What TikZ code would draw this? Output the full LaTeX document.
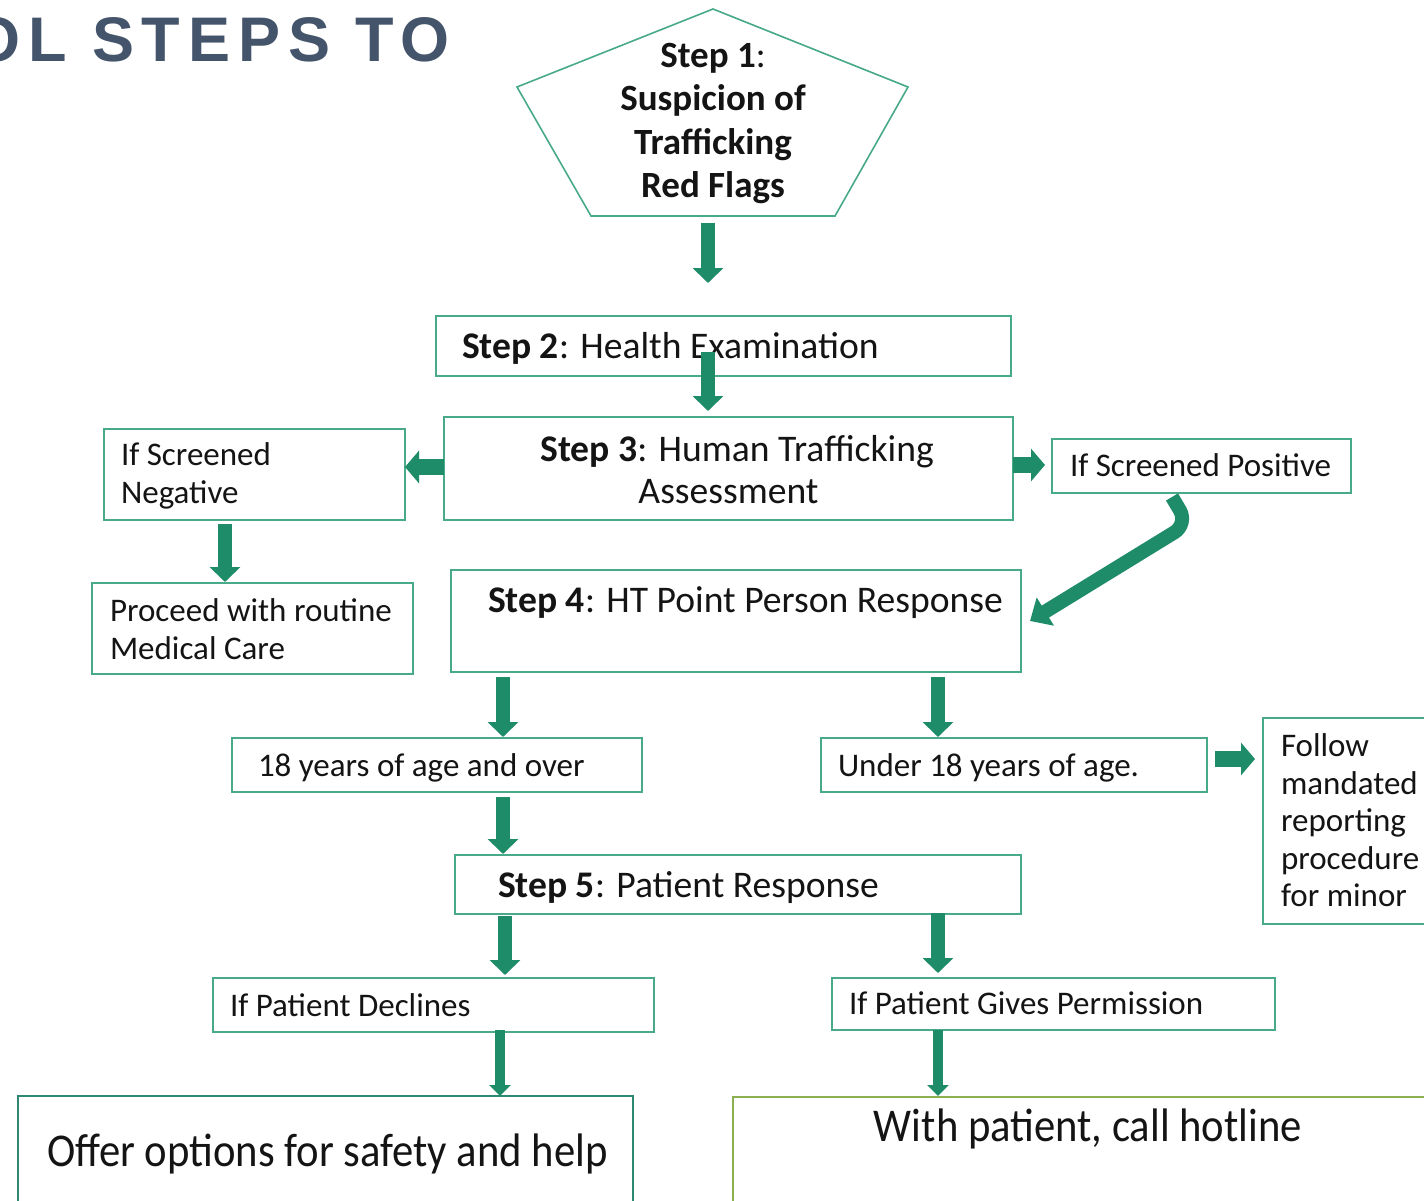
\documentclass[tikz,border=0pt]{standalone}
\usepackage{fontspec}
\setmainfont{Carlito}
\newfontfamily\titlefont[LetterSpace=12.5]{Liberation Sans}
\usetikzlibrary{arrows.meta,calc}
\definecolor{bord}{RGB}{72,170,136}
\definecolor{arr}{RGB}{31,140,105}
\definecolor{olivebd}{RGB}{140,176,80}
\definecolor{tealbd}{RGB}{46,135,112}
\definecolor{ttl}{RGB}{68,84,106}
\definecolor{ink}{RGB}{20,20,20}
\newcommand\mkbox[6][]{\node[box,#1,minimum width={#5pt-#3pt},minimum height={#6pt-#4pt}] (#2) at ({(#3+#5)/2},{(#4+#6)/2}) {};}
\newcommand\ml[2]{\begin{tabular}[t]{@{}#1@{}}#2\end{tabular}}
\begin{document}
\begin{tikzpicture}[x=1pt,y=-1pt,
  box/.style={draw=bord,line width=2pt,inner sep=0pt,outer sep=0pt},
  txt/.style={inner sep=0pt,outer sep=0pt,text=ink,font=\fontsize{33}{38.2}\selectfont},
  steptxt/.style={txt,font=\fontsize{37.6}{42}\selectfont},
  bigtxt/.style={txt,font=\fontsize{47}{52}\selectfont},
  blk/.style={draw=arr,line width=14pt,-{Triangle[length=15pt,width=30pt]}},
  blkh/.style={draw=arr,line width=16pt,-{Triangle[length=14pt,width=32pt]}},
  blks/.style={draw=arr,line width=10pt,-{Triangle[length=11pt,width=21pt]}},
  blkc/.style={draw=arr,line width=14pt,-{Triangle[length=18pt,width=32pt]}}
]
\clip (0,0) rectangle (1424,1201);
\fill[white] (0,0) rectangle (1424,1201);

% title
\node[anchor=base east,inner sep=0pt,text=ttl] (title) at (450,62)
  {\titlefont\bfseries\fontsize{63}{70}\selectfont OL STEPS TO};

% step 1 pentagon
\draw[draw=bord,line width=1.6pt] (713,9) -- (908,87) -- (835,216) -- (591,216) -- (517,87) -- cycle;
\coordinate (pb) at (708,216);
\node[txt,anchor=base,font=\bfseries\fontsize{37}{43.4}\selectfont] (t1) at (713,67.5)
  {\ml{c}{Step 1{\mdseries:}\\Suspicion of\\Trafficking\\Red Flags}};

% boxes
\mkbox{s2}{436}{316}{1011}{376}
\mkbox{s3}{444}{417}{1013}{520}
\mkbox{neg}{104}{429}{405}{520}
\mkbox{proc}{92}{583}{413}{674}
\mkbox{pos}{1052}{439}{1351}{493}
\mkbox{s4}{451}{570}{1021}{672}
\mkbox{adult}{232}{738}{642}{792}
\mkbox{minor}{821}{738}{1207}{792}
\mkbox{follow}{1263}{718}{1440}{924}
\mkbox{s5}{455}{855}{1021}{914}
\mkbox{dec}{213}{978}{654}{1032}
\mkbox{perm}{832}{978}{1275}{1030}
\mkbox[draw=tealbd]{offer}{18}{1096}{633}{1240}
\mkbox[draw=olivebd]{hot}{733}{1097}{1440}{1240}

% texts
\node[steptxt,anchor=base west] (t2) at (462,358) {\textbf{Step 2}: Health Examination};
\node[steptxt,anchor=base] (t3a) at (737,461) {\textbf{Step 3}: Human Trafficking};
\node[steptxt,anchor=base] (t3b) at (728.5,503) {Assessment};
\node[txt,anchor=base west] (tneg) at (121,465.5) {\ml{l}{If Screened\\Negative}};
\node[txt,anchor=base west] (tproc) at (110,621.5) {\ml{l}{Proceed with routine\\Medical Care}};
\node[txt,anchor=base west] (tpos) at (1070,476) {If Screened Positive};
\node[steptxt,anchor=base west] (t4) at (488,612) {\textbf{Step 4}: HT Point Person Response};
\node[txt,anchor=base west] (tadult) at (258,776) {18 years of age and over};
\node[txt,anchor=base west] (tminor) at (838,776) {Under 18 years of age.};
\node[txt,anchor=base west,font=\fontsize{33}{37.6}\selectfont] (tfollow) at (1281,756.5) {\ml{l}{Follow\\mandated\\reporting\\procedure\\for minor}};
\node[steptxt,anchor=base west] (t5) at (498,897) {\textbf{Step 5}: Patient Response};
\node[txt,anchor=base west] (tdec) at (230,1016) {If Patient Declines};
\node[txt,anchor=base west] (tperm) at (849,1014) {If Patient Gives Permission};
\node[bigtxt,anchor=base west] (toffer) at (47,1166) {\scalebox{0.908}[1]{Offer options for safety and help}};
\node[bigtxt,anchor=base] (thot) at (1088,1141) {\scalebox{0.908}[1]{With patient, call hotline}};

% arrows
\draw[blk] ($(pb)+(0,7)$) -- ($(s2.north)+(-15.5,-33)$);
\draw[blk] ($(s2.center)+(-15.5,6)$) -- ($(s3.north)+(-20.5,-6)$);
\draw[blkh] ($(s3.west)+(0,-1.5)$) -- ($(s3.west -| neg.east)+(0,-1.5)$);
\draw[blkh] ($(s3.east)+(0,-3.5)$) -- ($(s3.east -| pos.west)+(-7,-3.5)$);
\draw[blk] ($(neg.south)+(-29.5,4)$) -- ($(proc.north)+(-27.5,-1)$);
\draw[blkc,rounded corners=16pt] ($(pos.south)+(-29.5,4)$) -- (1188,524) -- ($(s4.east)+(9,0)$);
\draw[blk] ($(s4.south)+(-233,5)$) -- ($(adult.north)+(66,-1)$);
\draw[blk] ($(s4.south)+(202,5)$) -- ($(minor.north)+(-76,-1)$);
\draw[blkh] ($(minor.east)+(8,-6)$) -- ($(minor.east -| follow.west)+(-8,-6)$);
\draw[blk] ($(adult.south)+(66,5)$) -- ($(s5.north)+(-235,-1)$);
\draw[blk] ($(s5.south)+(-233,2)$) -- ($(dec.north)+(71.5,-3)$);
\draw[blk] ($(s5.south)+(200,-1)$) -- ($(perm.north)+(-115.5,-5)$);
\draw[blks] ($(dec.south)+(66.5,-2)$) -- ($(offer.north)+(174.5,0)$);
\draw[blks] ($(perm.south)+(-115.5,0)$) -- ($(hot.north)+(-148.5,-1)$);
\end{tikzpicture}
\end{document}
